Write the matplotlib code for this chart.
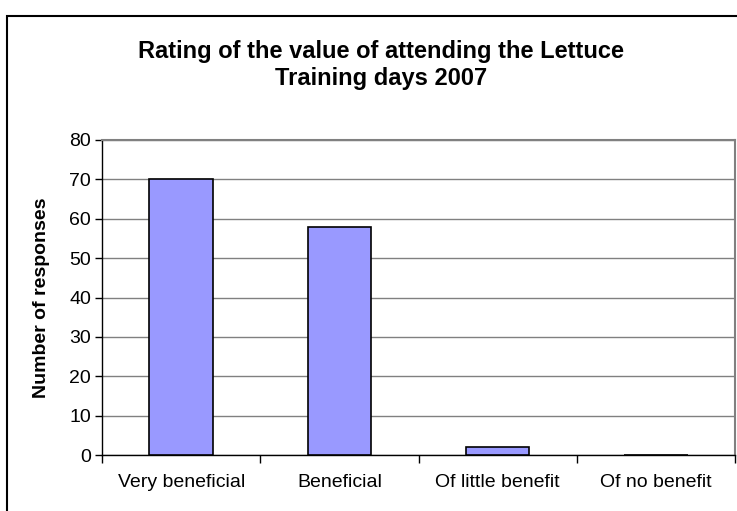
import matplotlib.pyplot as plt
from matplotlib.patches import Rectangle

# data
categories = ["Very beneficial", "Beneficial", "Of little benefit", "Of no benefit"]
responses = [70, 58, 2, 0]
yTicks = [0, 10, 20, 30, 40, 50, 60, 70, 80]

plt.rcParams['font.family'] = ['Liberation Sans', 'DejaVu Sans']

W, H = 737, 511
fig = plt.figure(figsize=(W / 100, H / 100), dpi=100)

# outer chart frame (runs off the right/bottom edge)
fig.patches.append(Rectangle((7 / W, -0.05), 1.2, (H - 16) / H + 0.05,
                             transform=fig.transFigure, fill=False,
                             edgecolor='black', linewidth=1.5))

ax = fig.add_axes([102 / W, (H - 455) / H, (735 - 102) / W, (455 - 140) / H])

x = range(len(categories))
ax.bar(x, responses, width=0.4, color='#9999FF', edgecolor='black',
       linewidth=1.2, zorder=3)

ax.set_xlim(-0.5, len(categories) - 0.5)
ax.set_ylim(0, 80)
ax.set_yticks(yTicks)
ax.yaxis.grid(True, color='#808080', linewidth=1, zorder=0)

# category boundary ticks, labels at centers
ax.set_xticks([i - 0.5 for i in range(len(categories) + 1)])
ax.set_xticklabels([])
ax.set_xticks(list(x), minor=True)
ax.set_xticklabels(categories, minor=True, fontsize=14)
ax.tick_params(axis='x', which='major', length=6, width=1, direction='out')
ax.tick_params(axis='x', which='minor', length=0, pad=14)
ax.tick_params(axis='y', length=5, width=1, direction='out', labelsize=14, pad=3)

for side in ['top', 'right']:
    ax.spines[side].set_color('#808080')
    ax.spines[side].set_linewidth(1.5)
for side in ['left', 'bottom']:
    ax.spines[side].set_color('black')
    ax.spines[side].set_linewidth(1)

ax.set_ylabel("Number of responses", fontsize=14, fontweight='bold')
ax.yaxis.set_label_coords(-(102 - 50) / 633, 0.5)

fig.text(381 / W, 1 - 65 / H, "Rating of the value of attending the Lettuce\nTraining days 2007",
         ha='center', va='center', fontsize=17, fontweight='bold', linespacing=1.2)

fig.savefig("out.png", dpi=100)
